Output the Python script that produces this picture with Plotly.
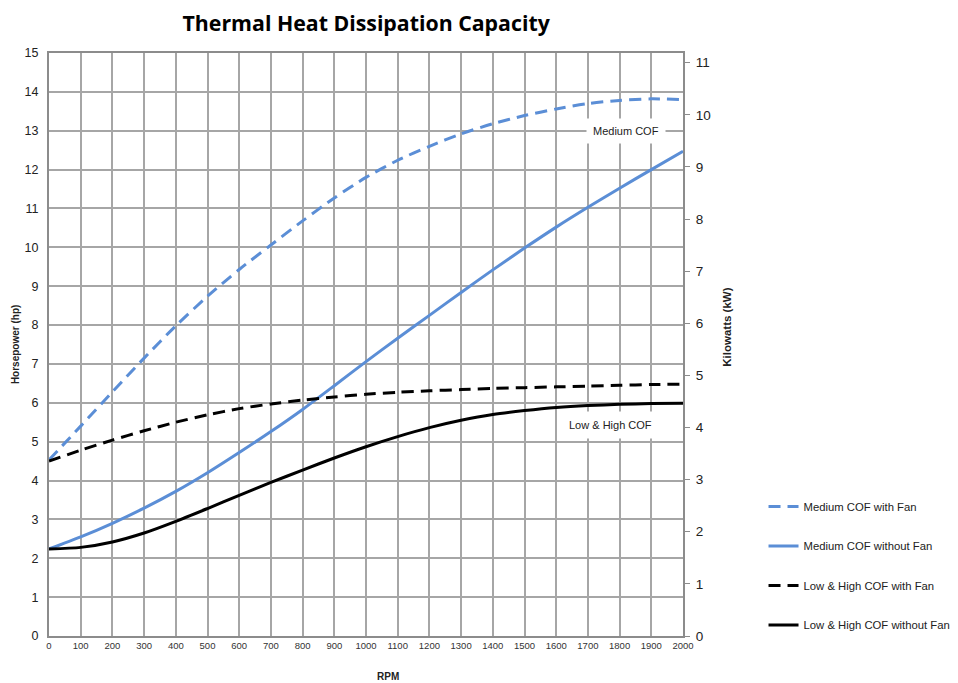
import plotly.graph_objects as go

rpm = [0, 100, 200, 300, 400, 500, 600, 700, 800, 900, 1000,
       1100, 1200, 1300, 1400, 1500, 1600, 1700, 1800, 1900, 2000]

medium_with_fan = [4.53, 5.4, 6.28, 7.15, 7.98, 8.74, 9.43, 10.06, 10.68, 11.27, 11.8,
                   12.24, 12.6, 12.92, 13.18, 13.39, 13.56, 13.7, 13.78, 13.82, 13.8]
medium_without_fan = [2.24, 2.55, 2.9, 3.29, 3.72, 4.2, 4.72, 5.26, 5.83, 6.44, 7.06,
                      7.66, 8.25, 8.84, 9.42, 9.98, 10.52, 11.03, 11.52, 12.0, 12.47]
lowhigh_with_fan = [4.5, 4.78, 5.04, 5.28, 5.5, 5.69, 5.85, 5.97, 6.07, 6.15, 6.22,
                    6.27, 6.31, 6.34, 6.37, 6.39, 6.41, 6.43, 6.45, 6.47, 6.48]
lowhigh_without_fan = [2.24, 2.28, 2.42, 2.65, 2.95, 3.28, 3.62, 3.95, 4.27, 4.58, 4.87,
                       5.13, 5.36, 5.55, 5.7, 5.8, 5.88, 5.93, 5.96, 5.98, 5.99]

series_names = ["Medium COF with Fan", "Medium COF without Fan",
                "Low & High COF with Fan", "Low & High COF without Fan"]
series_values = [medium_with_fan, medium_without_fan, lowhigh_with_fan, lowhigh_without_fan]
series_colors = ["#5B8ED6", "#5B8ED6", "#000000", "#000000"]
series_dash = ["12px,7px", "solid", "12px,7px", "solid"]

hp_ticks = list(range(0, 16))
kw_ticks = list(range(0, 12))
rpm_ticks = list(range(0, 2001, 100))
HP_TO_KW = 0.7457

fig = go.Figure()
for i, (name, vals) in enumerate(zip(series_names, series_values)):
    fig.add_trace(go.Scatter(
        x=rpm, y=vals, name=name, mode="lines", legendgroup=f"g{i}",
        line=dict(color=series_colors[i], width=3, dash=series_dash[i], shape="spline", smoothing=0.7),
    ))

# invisible trace to activate the secondary (kW) axis
fig.add_trace(go.Scatter(x=[0], y=[0], yaxis="y2", mode="lines", showlegend=False,
                         hoverinfo="skip", line=dict(color="rgba(0,0,0,0)")))

grid_col = "#A6A6A6"
fig.update_layout(
    width=950, height=675,
    margin=dict(l=41, r=275, t=45, b=47, autoexpand=False),
    paper_bgcolor="white", plot_bgcolor="white",
    font=dict(family="Liberation Sans, Arial, sans-serif", color="#222222"),
    title=dict(text="<b>Thermal Heat Dissipation Capacity</b>", x=0.377, xanchor="center",
               y=0.977, yanchor="middle", font=dict(family="Open Sans", size=21.3, color="#000000")),
    xaxis=dict(range=[0, 2000], tickvals=rpm_ticks, showgrid=True, gridcolor=grid_col, gridwidth=1.5,
               showline=True, linecolor="#8C8C8C", linewidth=2, mirror=True, zeroline=False,
               ticks="", tickfont=dict(size=9.5, color="#333333")),
    yaxis=dict(range=[0, 15], tickvals=hp_ticks, showgrid=True, gridcolor=grid_col, gridwidth=1.5,
               showline=True, linecolor="#8C8C8C", linewidth=2, zeroline=False,
               ticks="outside", ticklen=6, tickcolor="rgba(0,0,0,0)", tickfont=dict(size=12.5, color="#222222")),
    yaxis2=dict(range=[0, 15 * HP_TO_KW], tickvals=kw_ticks, overlaying="y", side="right",
                showgrid=False, zeroline=False, showline=True, linecolor="#8C8C8C", linewidth=2,
                ticks="outside", ticklen=5, tickcolor="#8C8C8C", ticklabelstandoff=3,
                tickfont=dict(size=13.5, color="#222222")),
    legend=dict(x=1.127, xanchor="left", y=0.247, yanchor="top", font=dict(size=11.3, color="#222222"),
                tracegroupgap=20.5, bgcolor="rgba(0,0,0,0)"),
    showlegend=True,
)

fig.add_annotation(text="<b>Horsepower (hp)</b>", xref="paper", yref="paper", x=-0.0536, y=0.499,
                   xanchor="center", yanchor="middle",
                   textangle=-90, showarrow=False, font=dict(size=10, color="#222222"))
fig.add_annotation(text="<b>Kilowatts (kW)</b>", xref="paper", yref="paper", x=1.069, y=0.53,
                   xanchor="center", yanchor="middle",
                   textangle=-90, showarrow=False, font=dict(size=11.5, color="#222222"))
fig.add_annotation(text="<b>RPM</b>", xref="paper", yref="paper", x=0.535, y=-0.070,
                   xanchor="center", yanchor="middle",
                   showarrow=False, font=dict(size=10, color="#222222"))

fig.add_annotation(text="Medium COF", x=1820, y=13, xref="x", yref="y", showarrow=False,
                   bgcolor="white", borderpad=6, font=dict(size=11, color="#222222"))
fig.add_annotation(text="Low & High COF", x=1770, y=5.43, xref="x", yref="y", showarrow=False,
                   bgcolor="white", borderpad=7, font=dict(size=11, color="#222222"))

fig.write_html("out.html")
